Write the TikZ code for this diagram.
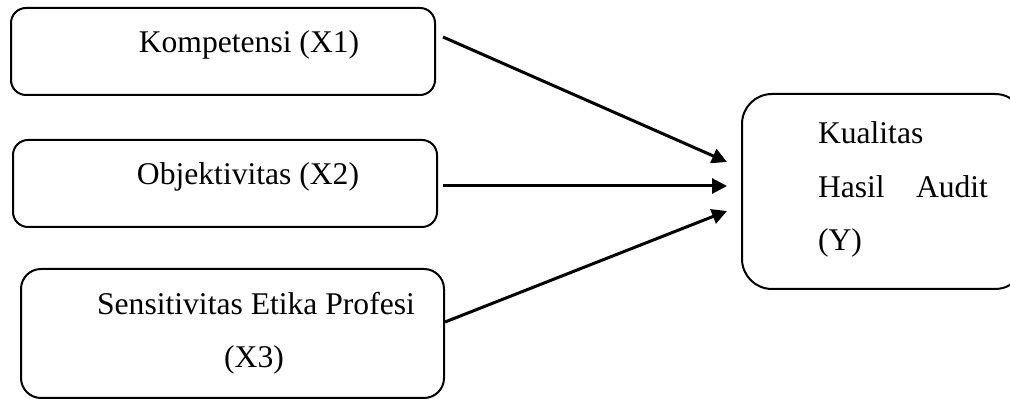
\documentclass[tikz,border=0pt]{standalone}
\usepackage{fontspec}
\setmainfont{Liberation Serif}
\usetikzlibrary{arrows.meta}
\begin{document}
\begin{tikzpicture}[x=0.5pt,y=-0.5pt,
  box/.style={draw=black,line width=1pt,rounded corners=7.5pt,inner sep=0pt,outer sep=0pt},
  txt/.style={inner sep=0pt,outer sep=0pt,font=\fontsize{15.8}{19}\selectfont,text=black},
  link/.style={line width=1.5pt,-{Triangle[length=7.5pt,width=7.5pt]}}]
\useasboundingbox (0,0) rectangle (1010,399);
\clip (0,0) rectangle (1010,399);

% independent variables
\node[box,minimum width=212pt,minimum height=43.5pt] (x1) at (223,51.5) {};
\node[box,minimum width=212pt,minimum height=43.5pt] (x2) at (225,183.5) {};
\node[box,rounded corners=10pt,minimum width=211.5pt,minimum height=64.5pt] (x3) at (232.5,333.5) {};
% dependent variable, running past the right margin
\node[box,rounded corners=15pt,minimum width=141.5pt,minimum height=97.5pt] (y) at (883.5,191.5) {};

\node[txt,anchor=base] (t1) at (249,53) {Kompetensi (X1)};
\node[txt,anchor=base] (t2) at (248,185) {Objektivitas (X2)};
\node[txt,anchor=base] (t3a) at (256,315) {Sensitivitas Etika Profesi};
\node[txt,anchor=base] (t3b) at (254,368) {(X3)};
\node[txt,anchor=base west] (ty1) at (818,144) {Kualitas};
\node[txt,anchor=base west] (ty2) at (818,197.5) {Hasil};
\node[txt,anchor=base east] (ty3) at (988,197.5) {Audit};
\node[txt,anchor=base west] (ty4) at (818,251) {(Y)};

% arrow ends
\coordinate (s1) at (443,37);
\coordinate (s2) at (443,186);
\coordinate (s3) at (445,322);
\coordinate (e1) at (727,162);
\coordinate (e2) at (727,186);
\coordinate (e3) at (727,211);

\draw[link] (s1) -- (e1);
\draw[link] (s2) -- (e2);
\draw[link] (s3) -- (e3);
\end{tikzpicture}
\end{document}
